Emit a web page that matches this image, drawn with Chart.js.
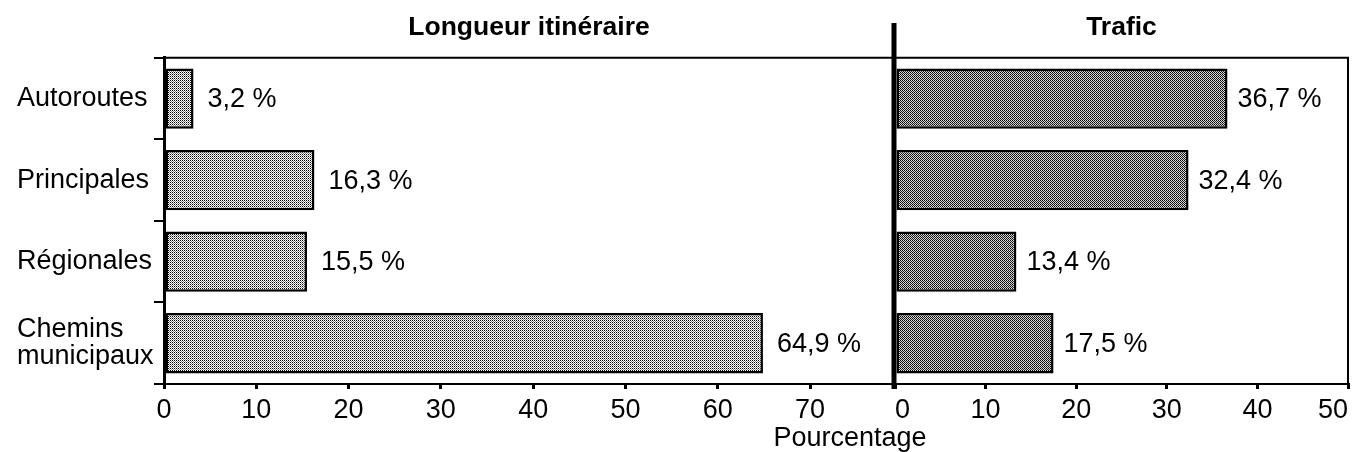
<!DOCTYPE html>
<html>
<head>
<meta charset="utf-8">
<script src="https://cdn.jsdelivr.net/npm/chart.js@4"></script>
<style>
  body { margin: 0; width: 1353px; height: 452px; overflow: hidden; background: #fff; position: relative; }
  canvas { position: absolute; top: 0; }
  #left-chart { left: 0; }
  #right-chart { left: 880px; }
  #axis-title {
    position: absolute; left: 700px; width: 300px; top: 422px;
    text-align: center; font: 27px/30px "Liberation Sans", Arial, sans-serif; color: #000;
  }
</style>
</head>
<body>
<canvas id="left-chart" width="898" height="452"></canvas>
<canvas id="right-chart" width="473" height="452"></canvas>
<div id="axis-title">Pourcentage</div>
<script>
// data
const categories = ["Autoroutes", "Principales", "Régionales", ["Chemins", "municipaux"]];
const longueurValues = [3.2, 16.3, 15.5, 64.9];
const traficValues = [36.7, 32.4, 13.4, 17.5];
const longueurTicks = [0, 10, 20, 30, 40, 50, 60, 70];
const traficTicks = [0, 10, 20, 30, 40, 50];

const FONT = '"Liberation Sans", Arial, Helvetica, sans-serif';
Chart.defaults.font.family = FONT;
Chart.defaults.font.size = 27;
Chart.defaults.color = "#000";

// dithered grey fill like the scan
function makePattern(colors) {
  const c = document.createElement("canvas");
  c.width = 2;
  c.height = 2;
  const g = c.getContext("2d");
  colors.forEach((col, i) => {
    g.fillStyle = col;
    g.fillRect(i % 2, Math.floor(i / 2), 1, 1);
  });
  return g.createPattern(c, "repeat");
}

// "3,2 %" labels right of each bar
const valueLabels = {
  id: "valueLabels",
  afterDatasetsDraw(chart, args, opts) {
    const ctx = chart.ctx;
    const data = chart.data.datasets[0].data;
    ctx.save();
    ctx.font = "27px " + FONT;
    ctx.fillStyle = "#000";
    ctx.textAlign = "left";
    ctx.textBaseline = "middle";
    chart.getDatasetMeta(0).data.forEach((bar, i) => {
      const txt = data[i].toFixed(1).replace(".", ",") + " %";
      ctx.fillText(txt, bar.x + opts.gap, bar.y + 1);
    });
    ctx.restore();
  },
};

// top / right frame lines and the thick divider
const frame = {
  id: "frame",
  afterDraw(chart, args, opts) {
    const { ctx, chartArea: a } = chart;
    ctx.save();
    ctx.strokeStyle = "#000";
    ctx.lineWidth = 2;
    ctx.beginPath();
    (opts.sides || []).forEach((s) => {
      if (s === "top") {
        ctx.moveTo(a.left, a.top);
        ctx.lineTo(a.right, a.top);
      }
      if (s === "right") {
        ctx.moveTo(a.right, a.top - 1);
        ctx.lineTo(a.right, a.bottom);
      }
    });
    ctx.stroke();
    if (opts.divider) {
      ctx.lineWidth = 5;
      ctx.beginPath();
      ctx.moveTo(a.left - 1, opts.divider);
      ctx.lineTo(a.left - 1, a.bottom + 5);
      ctx.stroke();
    }
    ctx.restore();
  },
};

function xScale(max, ticks, align) {
  return {
    type: "linear",
    min: 0,
    max: max,
    afterBuildTicks: (s) => {
      s.ticks = ticks.map((v) => ({ value: v }));
    },
    afterFit: (s) => {
      s.height = 68;
    },
    ticks: { padding: 5, align: align, maxRotation: 0, font: { size: 27 } },
    grid: { drawOnChartArea: false, drawTicks: true, tickLength: 5, color: "#000", lineWidth: 3 },
    border: { display: true, color: "#000", width: 2 },
  };
}

const longueurChart = new Chart(document.getElementById("left-chart"), {
  type: "bar",
  data: {
    labels: categories,
    datasets: [
      {
        data: longueurValues,
        backgroundColor: makePattern(["#000", "#fff", "#fff", "#888"]),
        borderColor: "#000",
        borderWidth: 2.5,
        borderSkipped: false,
        categoryPercentage: 0.74,
        barPercentage: 1,
      },
    ],
  },
  options: {
    responsive: false,
    animation: false,
    indexAxis: "y",
    layout: { padding: { left: 17, right: 4, top: 0, bottom: 0 } },
    scales: {
      x: xScale(79.1, longueurTicks, "center"),
      y: {
        afterFit: (s) => {
          s.width = 147;
        },
        ticks: { crossAlign: "far", font: { size: 27, lineHeight: 1.0 } },
        grid: { drawOnChartArea: false, tickLength: 10, color: "#000", lineWidth: 2 },
        border: { display: true, color: "#000", width: 3 },
      },
    },
    plugins: {
      legend: { display: false },
      tooltip: { enabled: false },
      title: {
        display: true,
        text: "Longueur itinéraire",
        fullSize: false,
        font: { size: 26.5, weight: "bold", lineHeight: 1.2 },
        padding: { top: 12, bottom: 14 },
      },
      valueLabels: { gap: 14 },
      frame: { sides: ["top"] },
    },
  },
  plugins: [valueLabels, frame],
});

const traficChart = new Chart(document.getElementById("right-chart"), {
  type: "bar",
  data: {
    labels: categories,
    datasets: [
      {
        data: traficValues,
        backgroundColor: makePattern(["#000", "#ddd", "#ccc", "#222"]),
        borderColor: "#000",
        borderWidth: 2.5,
        borderSkipped: false,
        categoryPercentage: 0.74,
        barPercentage: 1,
      },
    ],
  },
  options: {
    responsive: false,
    animation: false,
    indexAxis: "y",
    layout: { padding: { left: 15, right: 3, top: 0, bottom: 0 } },
    scales: {
      x: xScale(50, traficTicks, "inner"),
      y: { display: false },
    },
    plugins: {
      legend: { display: false },
      tooltip: { enabled: false },
      title: {
        display: true,
        text: "Trafic",
        fullSize: false,
        font: { size: 26.5, weight: "bold", lineHeight: 1.2 },
        padding: { top: 12, bottom: 14 },
      },
      valueLabels: { gap: 10 },
      frame: { sides: ["top", "right"], divider: 23 },
    },
  },
  plugins: [valueLabels, frame],
});
</script>
</body>
</html>
